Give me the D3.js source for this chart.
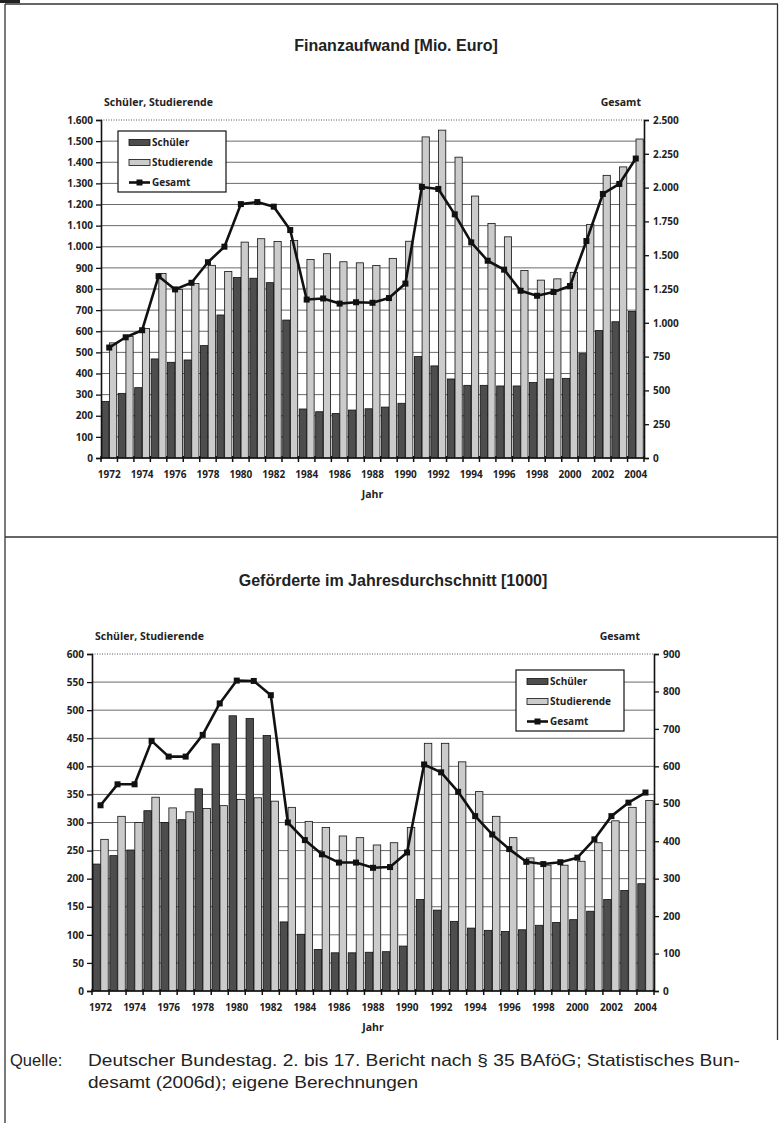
<!DOCTYPE html>
<html><head><meta charset="utf-8">
<script src="https://cdn.jsdelivr.net/npm/d3@7/dist/d3.min.js"></script>
<style>body{margin:0;background:#fff}svg{display:block}</style>
</head><body><svg id="c" width="782" height="1123"></svg>
<script>
// ---------- DATA ----------
const years = [1972,1973,1974,1975,1976,1977,1978,1979,1980,1981,1982,1983,1984,1985,1986,1987,1988,1989,1990,1991,1992,1993,1994,1995,1996,1997,1998,1999,2000,2001,2002,2003,2004];
const yearLabels = [1972,1974,1976,1978,1980,1982,1984,1986,1988,1990,1992,1994,1996,1998,2000,2002,2004];
const seriesNames = ["Schüler","Studierende","Gesamt"];

// Finanzaufwand [Mio. Euro]
const schuelerMio = [268,306,333,469,453,464,532,677,854,851,830,653,232,219,211,227,233,241,259,480,436,374,344,344,341,341,357,374,377,494,603,645,694];
const studMio     = [545,576,613,873,798,826,912,883,1022,1038,1025,1030,940,967,929,924,911,945,1026,1520,1552,1424,1240,1110,1047,888,842,848,879,1105,1338,1378,1510];
const gesamtMio   = [817,893,945,1345,1247,1296,1448,1563,1878,1893,1859,1686,1172,1180,1142,1152,1148,1183,1290,2005,1990,1802,1595,1459,1393,1237,1200,1228,1272,1605,1953,2027,2215];

// Geförderte im Jahresdurchschnitt [1000]
const schuelerK = [226,241,251,321,300,305,360,440,490,485,455,123,101,74,68,68,69,70,80,163,144,124,112,108,106,109,117,122,127,142,163,179,191];
const studK     = [270,311,300,345,326,319,325,330,341,344,338,327,302,291,276,273,260,264,291,441,441,408,355,311,273,237,224,224,231,264,303,327,339];
const gesamtK   = [496,552,552,668,626,626,684,768,829,828,790,450,403,365,343,343,329,331,370,605,584,532,467,418,379,345,339,344,356,405,467,503,530];

// Tick values
const leftTicksTop  = [0,100,200,300,400,500,600,700,800,900,1000,1100,1200,1300,1400,1500,1600];
const rightTicksTop = [0,250,500,750,1000,1250,1500,1750,2000,2250,2500];
const leftTicksBot  = [0,50,100,150,200,250,300,350,400,450,500,550,600];
const rightTicksBot = [0,100,200,300,400,500,600,700,800,900];

const titles = ["Finanzaufwand [Mio. Euro]","Geförderte im Jahresdurchschnitt [1000]"];
const leftAxisTitle = "Schüler, Studierende";
const rightAxisTitle = "Gesamt";
const xAxisTitle = "Jahr";
const sourceLabel = "Quelle:";
const sourceLines = ["Deutscher Bundestag. 2. bis 17. Bericht nach § 35 BAföG; Statistisches Bun-","desamt (2006d); eigene Berechnungen"];

// ---------- DRAW ----------
const svg = d3.select("#c");
const de = d3.formatLocale({decimal:",",thousands:".",grouping:[3],currency:["","€"]});
const fmt = de.format(",d");
const TF = "'Open Sans', sans-serif";
const darkFill = "#4d4d4d", lightFill = "#cbcbcb";

// frame
const frame = svg.append("g").attr("stroke","#333").attr("stroke-width",1.3).attr("fill","none");
frame.append("line").attr("x1",5).attr("x2",778).attr("y1",4).attr("y2",4);
frame.append("line").attr("x1",5).attr("x2",5).attr("y1",4).attr("y2",1123);
frame.append("line").attr("x1",777.5).attr("x2",777.5).attr("y1",4).attr("y2",1040);
frame.append("line").attr("x1",5).attr("x2",778).attr("y1",537).attr("y2",537);
svg.append("rect").attr("x",0).attr("y",0).attr("width",20).attr("height",3).attr("fill","#222");

function chart(o){
  const g = svg.append("g");
  const x = d3.scaleBand().domain(years).range([o.x0,o.x1]);
  const bw = x.bandwidth();
  const sub = d3.scaleBand().domain(seriesNames.slice(0,2)).range([0,bw]).paddingInner(0.06).paddingOuter(0.1);
  const yL = d3.scaleLinear().domain([0,o.lMax]).range([o.y0,o.y1]);
  const yR = d3.scaleLinear().domain([0,o.rMax]).range([o.y0,o.y1]);

  // title
  g.append("text").attr("x",o.titleX).attr("y",o.titleY).attr("text-anchor","middle")
    .attr("font-family","'Liberation Sans', Arial, sans-serif").attr("font-weight","bold").attr("font-size",16)
    .attr("fill","#222").text(o.title);
  g.append("text").attr("x",o.x0+3).attr("y",o.y1-14).attr("font-family",TF).attr("font-weight","bold")
    .attr("font-size",10.5).attr("fill","#222").text(leftAxisTitle);
  g.append("text").attr("x",o.gesamtX).attr("y",o.y1-14).attr("text-anchor","end").attr("font-family",TF).attr("font-weight","bold")
    .attr("font-size",10.5).attr("fill","#222").text(rightAxisTitle);

  // gridlines
  g.append("g").selectAll("line").data(o.grid.filter(v=>v>0 && v<o.lMax)).join("line")
    .attr("x1",o.x0).attr("x2",o.x1).attr("y1",d=>yL(d)).attr("y2",d=>yL(d))
    .attr("stroke","#6a6a6a").attr("stroke-width",1);
  g.append("line").attr("x1",o.x0).attr("x2",o.x1).attr("y1",yL(o.lMax)).attr("y2",yL(o.lMax))
    .attr("stroke","#555").attr("stroke-width",1).attr("stroke-dasharray","1,1.5");

  // bars
  const bars = g.append("g").attr("stroke","#111").attr("stroke-width",0.8);
  bars.selectAll("rect.s").data(years).join("rect").attr("class","s")
    .attr("x",(d)=>x(d)+sub("Schüler")).attr("width",sub.bandwidth())
    .attr("y",(d,i)=>yL(o.s[i])).attr("height",(d,i)=>yL(0)-yL(o.s[i])).attr("fill",darkFill);
  bars.selectAll("rect.t").data(years).join("rect").attr("class","t")
    .attr("x",(d)=>x(d)+sub("Studierende")).attr("width",sub.bandwidth())
    .attr("y",(d,i)=>yL(o.t[i])).attr("height",(d,i)=>yL(0)-yL(o.t[i])).attr("fill",lightFill);

  // axes
  const axL = g.append("g").attr("transform",`translate(${o.x0},0)`)
    .call(d3.axisLeft(yL).tickValues(o.lTicks).tickFormat(fmt).tickSize(5).tickPadding(3));
  const axR = g.append("g").attr("transform",`translate(${o.x1},0)`)
    .call(d3.axisRight(yR).tickValues(o.rTicks).tickFormat(fmt).tickSize(5).tickPadding(4));
  const axB = g.append("g").attr("transform",`translate(0,${o.y0})`)
    .call(d3.axisBottom(x).tickValues(yearLabels).tickSize(0).tickPadding(13));
  [axL,axR,axB].forEach(a=>{
    a.select(".domain").attr("stroke","#111").attr("stroke-width",1.6);
    a.selectAll(".tick line").attr("stroke","#111").attr("stroke-width",1.3);
    a.selectAll("text").attr("font-family",TF).attr("font-weight","bold").attr("font-size",10).attr("fill","#222");
  });
  axB.select(".domain").attr("d",`M${o.x0},0H${o.x1}`);
  // boundary tick marks on x axis
  g.append("g").selectAll("line").data(years.concat([null])).join("line")
    .attr("x1",d=>d===null?o.x1:x(d)).attr("x2",d=>d===null?o.x1:x(d))
    .attr("y1",o.y0-2).attr("y2",o.y0+4).attr("stroke","#111").attr("stroke-width",1.5);

  g.append("text").attr("x",(o.x0+o.x1)/2).attr("y",o.y0+40).attr("text-anchor","middle")
    .attr("font-family",TF).attr("font-weight","bold").attr("font-size",10.5).attr("fill","#222").text(xAxisTitle);

  // line
  const pts = years.map((d,i)=>[x(d)+bw/2, yR(o.g[i])]);
  g.append("path").attr("d",d3.line()(pts)).attr("fill","none").attr("stroke","#111").attr("stroke-width",2.6).attr("stroke-linejoin","round");
  g.append("g").selectAll("rect").data(pts).join("rect")
    .attr("x",p=>p[0]-3).attr("y",p=>p[1]-3).attr("width",6).attr("height",6).attr("fill","#111");

  // legend
  const L = g.append("g").attr("transform",`translate(${o.legX},${o.legY})`);
  L.append("rect").attr("width",108).attr("height",61).attr("fill","#fff").attr("stroke","#111").attr("stroke-width",1.2);
  const rows = [{n:seriesNames[0],f:darkFill},{n:seriesNames[1],f:lightFill},{n:seriesNames[2],f:null}];
  rows.forEach((r,i)=>{
    const cy = 11.5 + i*20;
    if(r.f){
      L.append("rect").attr("x",11).attr("y",cy-3).attr("width",21).attr("height",6).attr("fill",r.f).attr("stroke","#111").attr("stroke-width",0.8);
    } else {
      L.append("line").attr("x1",11).attr("x2",32).attr("y1",cy).attr("y2",cy).attr("stroke","#111").attr("stroke-width",2.6);
      L.append("rect").attr("x",18.5).attr("y",cy-3).attr("width",6).attr("height",6).attr("fill","#111");
    }
    L.append("text").attr("x",34).attr("y",cy+3.6).attr("font-family",TF).attr("font-weight","bold")
      .attr("font-size",10).attr("fill","#222").text(r.n);
  });
}

chart({x0:101,x1:644,y0:458,y1:120,lMax:1600,rMax:2500,s:schuelerMio,t:studMio,g:gesamtMio,
  lTicks:leftTicksTop,rTicks:rightTicksTop,grid:leftTicksTop,title:titles[0],titleX:396,titleY:51,
  gesamtX:641,legX:118,legY:131});
chart({x0:92,x1:654,y0:991,y1:654,lMax:600,rMax:900,s:schuelerK,t:studK,g:gesamtK,
  lTicks:leftTicksBot,rTicks:rightTicksBot,grid:leftTicksBot,title:titles[1],titleX:393,titleY:586,
  gesamtX:640,legX:516,legY:670});

// source
const src = svg.append("g").attr("font-family","'Liberation Sans', Arial, sans-serif").attr("font-size",16.5).attr("fill","#222");
src.append("text").attr("x",10).attr("y",1066).text(sourceLabel);
const srcWidths = [652,330];
sourceLines.forEach((s,i)=>src.append("text").attr("x",88).attr("y",1066+22*i)
  .attr("textLength",srcWidths[i]).attr("lengthAdjust","spacingAndGlyphs").text(s));
</script></body></html>
